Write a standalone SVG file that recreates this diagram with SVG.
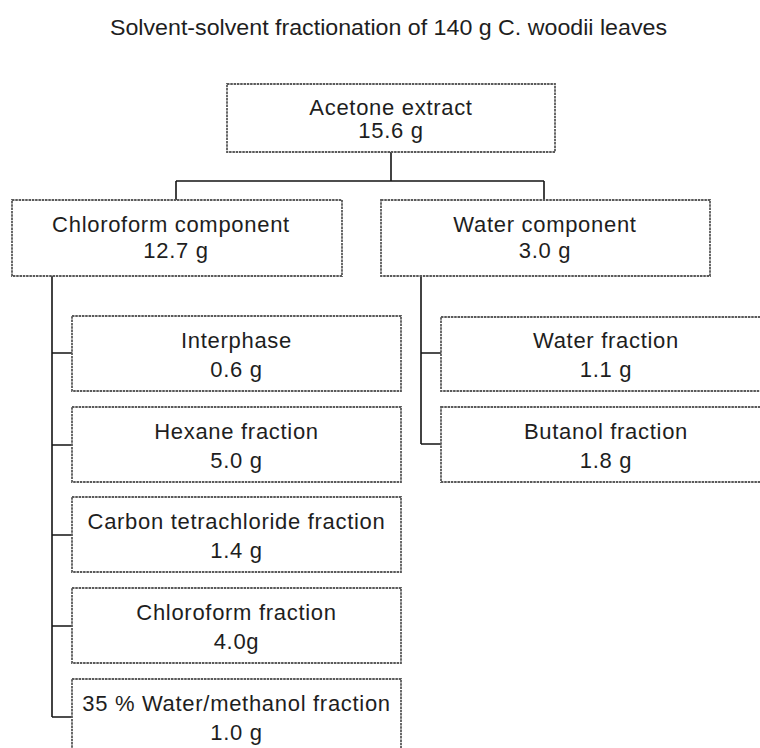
<svg xmlns="http://www.w3.org/2000/svg" width="760" height="748" viewBox="0 0 760 748">
<style>
.t{font-family:"Liberation Sans",Arial,sans-serif;font-size:22px;fill:#1e1e1e;text-anchor:middle;letter-spacing:0.7px}
.title{font-family:"Liberation Sans",Arial,sans-serif;font-size:22px;fill:#1e1e1e;text-anchor:middle}
.box{fill:none;stroke:#5a5a5a;stroke-width:1.8;stroke-dasharray:2.5 0.8}
.c{fill:none;stroke:#151515;stroke-width:1.6}
</style>
<rect width="760" height="748" fill="#ffffff"/>
<text class="title" x="388.5" y="35" textLength="557" lengthAdjust="spacingAndGlyphs">Solvent-solvent fractionation of 140 g C. woodii leaves</text>
<g id="connectors">
<path class="c" d="M391 152V181M176 181H544M176 181V200M544 181V200"/>
<path class="c" d="M52 276V717M52 353H72M52 445H72M52 535H72M52 626H72M52 717H72"/>
<path class="c" d="M421 276V444M421 353H441M421 444H441"/>
</g>
<g id="acetone">
<rect class="box" x="227" y="84" width="328" height="68"/>
<text class="t" x="391" y="115">Acetone extract</text>
<text class="t" x="391" y="138">15.6 g</text>
</g>
<g id="chloroform-component">
<rect class="box" x="12" y="200" width="330" height="76"/>
<text class="t" x="171" y="232">Chloroform component</text>
<text class="t" x="176" y="258">12.7 g</text>
</g>
<g id="water-component">
<rect class="box" x="381" y="200" width="329" height="76"/>
<text class="t" x="545" y="232">Water component</text>
<text class="t" x="545" y="258">3.0 g</text>
</g>
<g id="interphase">
<rect class="box" x="72" y="316" width="329" height="75"/>
<text class="t" x="236.5" y="348">Interphase</text>
<text class="t" x="236.5" y="377">0.6 g</text>
</g>
<g id="hexane">
<rect class="box" x="72" y="407" width="329" height="75"/>
<text class="t" x="236.5" y="439">Hexane fraction</text>
<text class="t" x="236.5" y="468">5.0 g</text>
</g>
<g id="carbon-tetrachloride">
<rect class="box" x="72" y="497" width="329" height="75"/>
<text class="t" x="236.5" y="529">Carbon tetrachloride fraction</text>
<text class="t" x="236.5" y="558">1.4 g</text>
</g>
<g id="chloroform-fraction">
<rect class="box" x="72" y="588" width="329" height="75"/>
<text class="t" x="236.5" y="620">Chloroform fraction</text>
<text class="t" x="236.5" y="649">4.0g</text>
</g>
<g id="water-methanol">
<rect class="box" x="72" y="679" width="329" height="75"/>
<text class="t" x="236.5" y="711">35 % Water/methanol fraction</text>
<text class="t" x="236.5" y="740">1.0 g</text>
</g>
<g id="water-fraction">
<rect class="box" x="441" y="317" width="330" height="74"/>
<text class="t" x="606" y="348">Water fraction</text>
<text class="t" x="606" y="377">1.1 g</text>
</g>
<g id="butanol">
<rect class="box" x="441" y="407" width="330" height="75"/>
<text class="t" x="606" y="439">Butanol fraction</text>
<text class="t" x="606" y="468">1.8 g</text>
</g>
</svg>
